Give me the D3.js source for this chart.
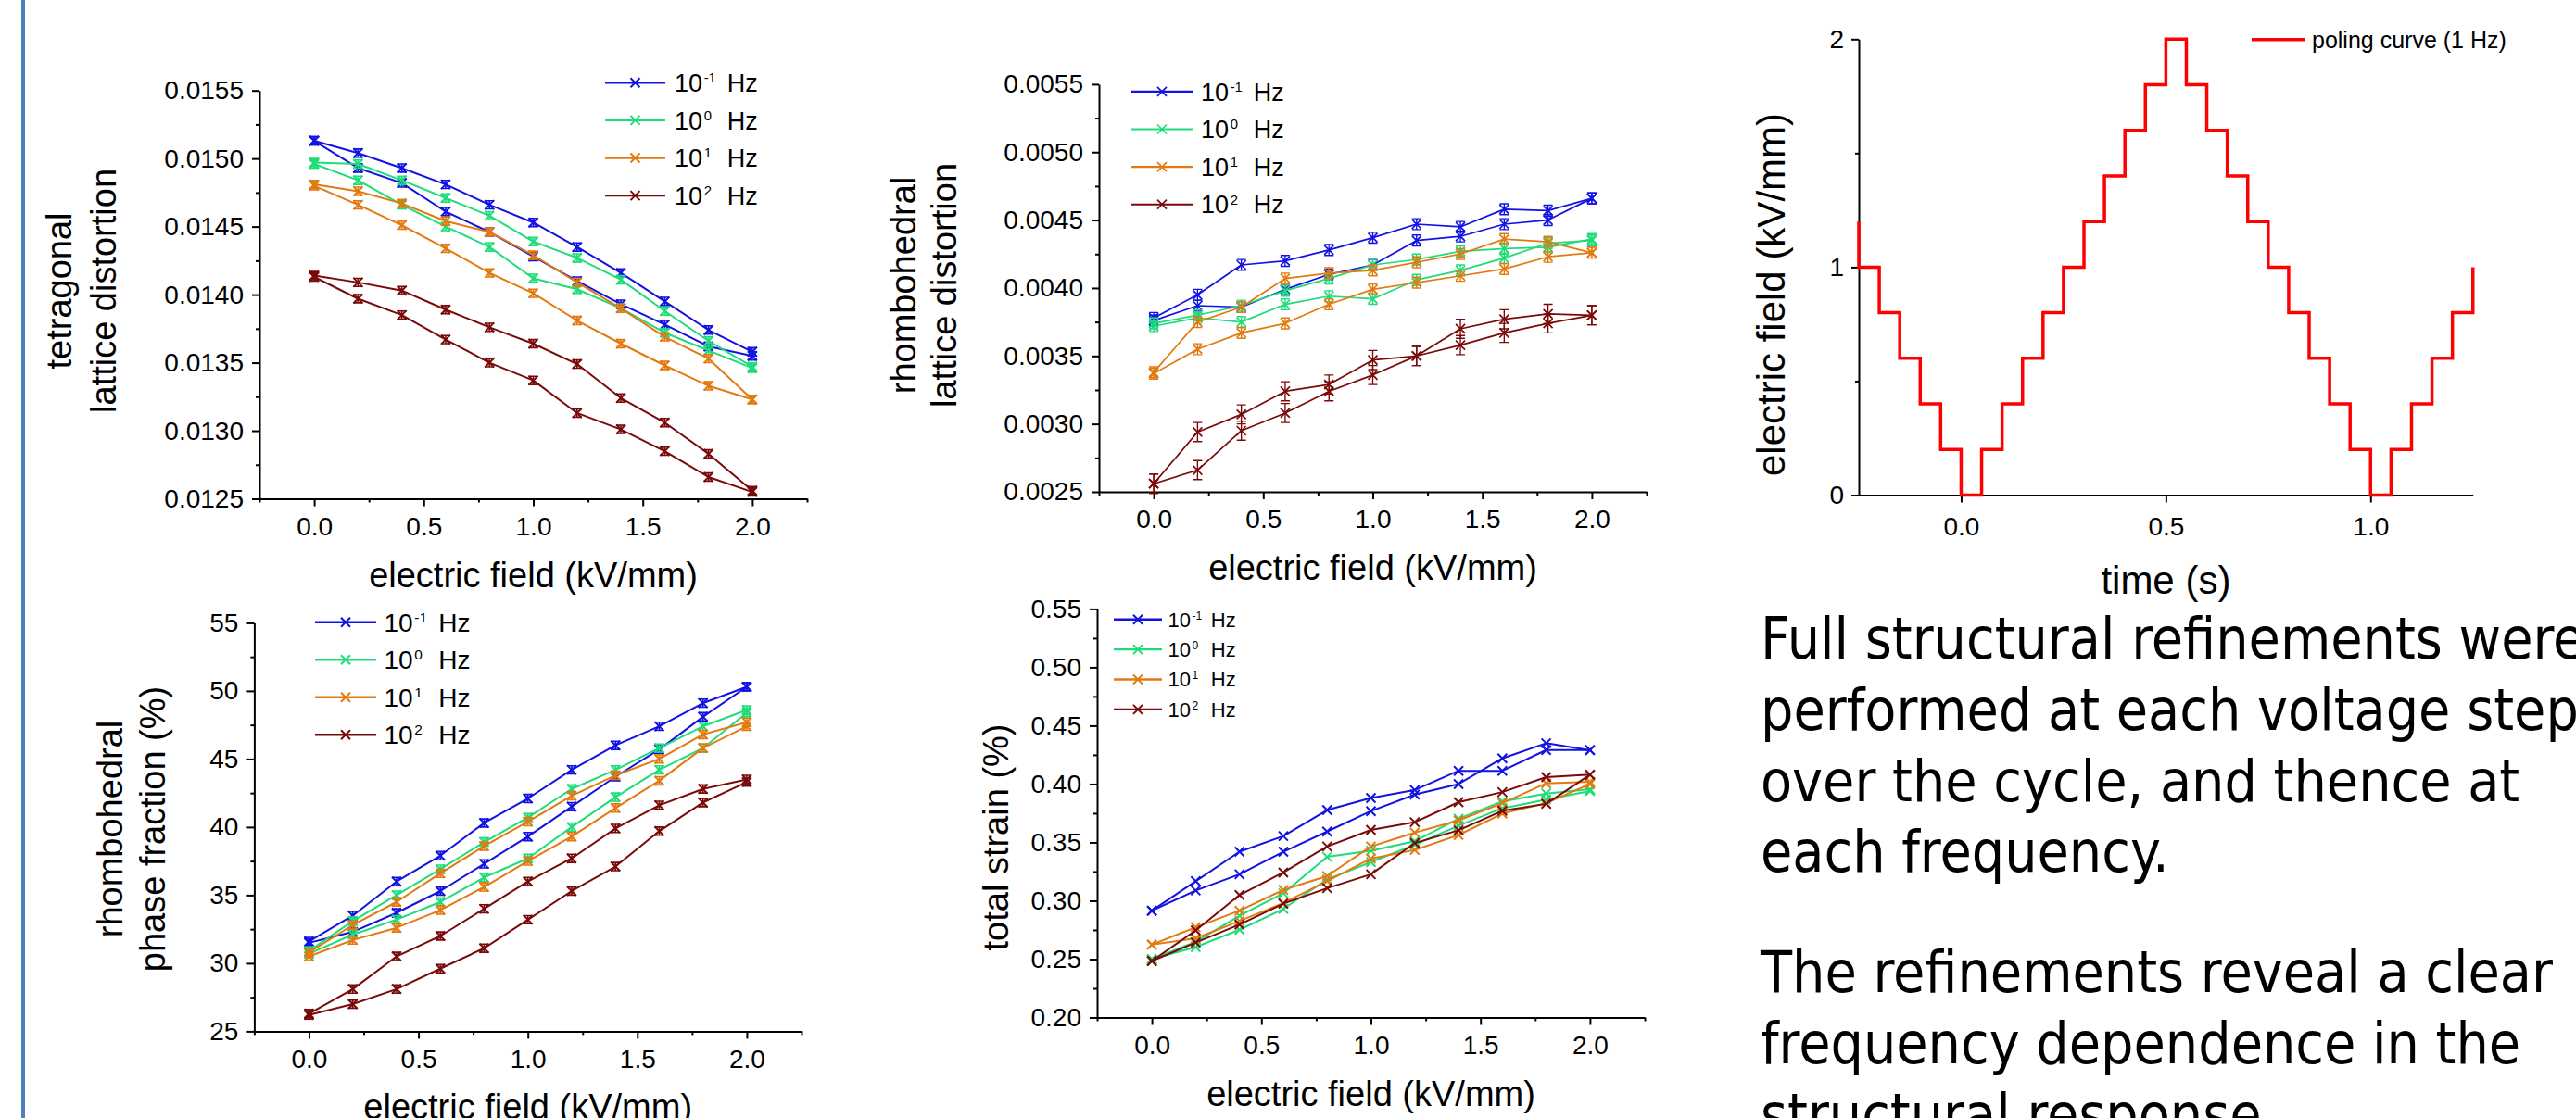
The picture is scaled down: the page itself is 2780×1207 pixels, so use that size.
<!DOCTYPE html>
<html>
<head>
<meta charset="utf-8">
<script src="https://cdn.jsdelivr.net/npm/d3@7"></script>
<style>
  html, body { margin: 0; padding: 0; background: #fff; overflow: hidden; }
  svg { display: block; }
</style>
</head>
<body>
<svg id="slide" width="2780" height="1207"></svg>
<script>
// ---------- data ----------
const fieldSteps = [0, 0.2, 0.4, 0.6, 0.8, 1.0, 1.2, 1.4, 1.6, 1.8, 2.0];   // kV/mm
const freqExponents = ["-1", "0", "1", "2"];                                // 10^n Hz

// Each loop has two branches over the field cycle; rows = 0.1, 1, 10, 100 Hz
const tetragonalA = [
  [0.01513, 0.01504, 0.01493, 0.01481, 0.01466, 0.01453, 0.01435, 0.01416, 0.01395, 0.01374, 0.01358],
  [0.01497, 0.01496, 0.01484, 0.01471, 0.01458, 0.01439, 0.01427, 0.01411, 0.01388, 0.01366, 0.01347],
  [0.01481, 0.01476, 0.01467, 0.01454, 0.01446, 0.01429, 0.01409, 0.01390, 0.01369, 0.01353, 0.01323],
  [0.01414, 0.01409, 0.01403, 0.01389, 0.01376, 0.01364, 0.01349, 0.01324, 0.01306, 0.01283, 0.01256]
];
const tetragonalB = [
  [0.01513, 0.01493, 0.01482, 0.01461, 0.01446, 0.01428, 0.01410, 0.01393, 0.01378, 0.01362, 0.01355],
  [0.01496, 0.01484, 0.01466, 0.01450, 0.01435, 0.01412, 0.01404, 0.01390, 0.01372, 0.01359, 0.01346],
  [0.01480, 0.01466, 0.01451, 0.01434, 0.01416, 0.01401, 0.01381, 0.01364, 0.01348, 0.01333, 0.01323],
  [0.01413, 0.01397, 0.01385, 0.01367, 0.01350, 0.01337, 0.01313, 0.01301, 0.01285, 0.01266, 0.01255]
];
const tetragonalErr = [0.00003, 0.00003, 0.00003, 0.00003];

const rhombDistA = [
  [0.00378, 0.00395, 0.00417, 0.00420, 0.00428, 0.00437, 0.00447, 0.00445, 0.00458, 0.00457, 0.00466],
  [0.00374, 0.00380, 0.00387, 0.00398, 0.00407, 0.00417, 0.00421, 0.00427, 0.00429, 0.00430, 0.00436],
  [0.00338, 0.00375, 0.00386, 0.00407, 0.00411, 0.00413, 0.00419, 0.00425, 0.00436, 0.00434, 0.00426],
  [0.00256, 0.00294, 0.00307, 0.00324, 0.00329, 0.00347, 0.00350, 0.00370, 0.00377, 0.00381, 0.00380]
];
const rhombDistB = [
  [0.00376, 0.00387, 0.00386, 0.00399, 0.00410, 0.00417, 0.00435, 0.00438, 0.00447, 0.00450, 0.00466],
  [0.00372, 0.00378, 0.00375, 0.00388, 0.00394, 0.00392, 0.00406, 0.00413, 0.00422, 0.00433, 0.00435],
  [0.00337, 0.00355, 0.00367, 0.00374, 0.00388, 0.00399, 0.00404, 0.00409, 0.00414, 0.00423, 0.00426],
  [0.00256, 0.00266, 0.00295, 0.00308, 0.00324, 0.00336, 0.00350, 0.00358, 0.00367, 0.00374, 0.00380]
];
const rhombDistErr = [0.00004, 0.00004, 0.00004, 0.00007];

const phaseFractionA = [
  [31.6, 33.5, 36.0, 37.9, 40.3, 42.1, 44.2, 46.0, 47.4, 49.1, 50.3],
  [30.9, 33.1, 35.0, 36.9, 38.9, 40.7, 42.8, 44.2, 45.8, 47.4, 48.6],
  [30.8, 32.8, 34.5, 36.6, 38.6, 40.4, 42.3, 43.8, 45.0, 46.8, 47.7],
  [26.3, 28.1, 30.5, 32.0, 34.0, 36.0, 37.7, 39.9, 41.6, 42.8, 43.5]
];
const phaseFractionB = [
  [31.5, 32.3, 33.7, 35.3, 37.3, 39.3, 41.5, 43.7, 45.7, 48.1, 50.3],
  [30.7, 32.1, 33.2, 34.5, 36.3, 37.7, 40.0, 42.2, 44.2, 45.8, 48.4],
  [30.5, 31.7, 32.6, 33.9, 35.6, 37.5, 39.3, 41.4, 43.4, 45.8, 47.4],
  [26.2, 27.0, 28.1, 29.6, 31.1, 33.2, 35.3, 37.1, 39.7, 41.8, 43.3]
];
const phaseFractionErr = [0.3, 0.3, 0.3, 0.3];

const strainA = [
  [0.2915, 0.3088, 0.3227, 0.3420, 0.3593, 0.3768, 0.3910, 0.4000, 0.4220, 0.4350, 0.4290],
  [0.2500, 0.2648, 0.2871, 0.3064, 0.3376, 0.3429, 0.3510, 0.3703, 0.3851, 0.3919, 0.3955],
  [0.2624, 0.2773, 0.2915, 0.3093, 0.3212, 0.3465, 0.3584, 0.3688, 0.3836, 0.4006, 0.4020],
  [0.2484, 0.2746, 0.3049, 0.3242, 0.3465, 0.3607, 0.3673, 0.3845, 0.3931, 0.4059, 0.4080]
];
const strainB = [
  [0.2915, 0.3168, 0.3420, 0.3554, 0.3777, 0.3881, 0.3949, 0.4113, 0.4113, 0.4291, 0.4291],
  [0.2500, 0.2603, 0.2752, 0.2930, 0.3183, 0.3331, 0.3480, 0.3643, 0.3792, 0.3866, 0.3940],
  [0.2624, 0.2678, 0.2826, 0.2981, 0.3168, 0.3361, 0.3435, 0.3563, 0.3747, 0.3836, 0.4000],
  [0.2484, 0.2642, 0.2796, 0.2975, 0.3108, 0.3227, 0.3495, 0.3604, 0.3771, 0.3830, 0.4080]
];
const strainErr = [0, 0, 0, 0];

// stepped poling waveform (1 Hz): time (s) and field (kV/mm)
const polingTime  = [-0.25, -0.25, -0.20, -0.15, -0.10, -0.05, 0.00, 0.05, 0.10, 0.15, 0.20, 0.25, 0.30, 0.35, 0.40, 0.45,
                      0.50, 0.55, 0.60, 0.65, 0.70, 0.75, 0.80, 0.85, 0.90, 0.95, 1.00, 1.05, 1.10, 1.15, 1.20, 1.25];
const polingField = [1.2, 1.0, 0.8, 0.6, 0.4, 0.2, 0.0, 0.2, 0.4, 0.6, 0.8, 1.0, 1.2, 1.4, 1.6, 1.8,
                     2.0, 1.8, 1.6, 1.4, 1.2, 1.0, 0.8, 0.6, 0.4, 0.2, 0.0, 0.2, 0.4, 0.6, 0.8, 1.0];

// axis ticks
const fieldTicks = [0, 0.5, 1.0, 1.5, 2.0];
const fieldMinorTicks = [-0.25, 0.25, 0.75, 1.25, 1.75, 2.25];
const tetragonalTicks = [0.0125, 0.0130, 0.0135, 0.0140, 0.0145, 0.0150, 0.0155];
const rhombDistTicks = [0.0025, 0.0030, 0.0035, 0.0040, 0.0045, 0.0050, 0.0055];
const phaseFractionTicks = [25, 30, 35, 40, 45, 50, 55];
const strainTicks = [0.20, 0.25, 0.30, 0.35, 0.40, 0.45, 0.50, 0.55];
const timeTicks = [0.0, 0.5, 1.0];
const polingFieldTicks = [0, 1, 2];

const bodyText = [
  "Full structural refinements were",
  "performed at each voltage step",
  "over the cycle, and thence at",
  "each frequency.",
  "",
  "The refinements reveal a clear",
  "frequency dependence in the",
  "structural response."
];

// ---------- drawing ----------
const svg = d3.select("#slide");
const seriesColors = ["#1212e2", "#1fdc7a", "#e27a10", "#7a0a0a"];
const chartFont = "'Liberation Sans', Arial, Helvetica, sans-serif";

svg.append("rect").attr("width", 2780).attr("height", 1207).attr("fill", "#fff");
svg.append("rect").attr("x", 23).attr("y", 0).attr("width", 4).attr("height", 1207).attr("fill", "#4f81bd");

function midpoints(ticks) {
  const out = [];
  for (let i = 0; i < ticks.length - 1; i++) out.push((ticks[i] + ticks[i + 1]) / 2);
  return out;
}

function styleAxis(sel, fontSize) {
  sel.selectAll(".domain, .tick line").attr("stroke", "#000").attr("stroke-width", 2);
  sel.selectAll(".tick text")
    .attr("font-family", chartFont).attr("font-size", fontSize).attr("fill", "#000");
}

function drawLegend(g, lg, lineWidth) {
  freqExponents.forEach((ex, i) => {
    const cy = lg.y0 + i * lg.dy;
    g.append("line")
      .attr("x1", lg.x).attr("x2", lg.x + lg.len).attr("y1", cy).attr("y2", cy)
      .attr("stroke", seriesColors[i]).attr("stroke-width", lineWidth + 0.4);
    g.append("path")
      .attr("transform", `translate(${lg.x + lg.len / 2},${cy})`)
      .attr("d", "M-5,-5L5,5M-5,5L5,-5")
      .attr("stroke", seriesColors[i]).attr("stroke-width", lineWidth).attr("fill", "none");
    const base = cy + 0.358 * lg.fs;
    const t = g.append("text")
      .attr("x", lg.tx).attr("y", base)
      .attr("font-family", chartFont).attr("font-size", lg.fs).attr("fill", "#000");
    t.append("tspan").text("10");
    t.append("tspan").attr("font-size", lg.fs * 0.55).attr("dx", lg.fs * 0.06)
      .attr("dy", -0.36 * lg.fs).text(ex);
    g.append("text")
      .attr("x", lg.tx + 2.1 * lg.fs).attr("y", base)
      .attr("font-family", chartFont).attr("font-size", lg.fs).attr("fill", "#000")
      .text("Hz");
  });
}

function drawPanel(p) {
  const g = svg.append("g");
  const x = d3.scaleLinear().domain([-0.25, 2.25]).range([p.left, p.right]);
  const y = d3.scaleLinear().domain(p.yDomain).range([p.bottom, p.top]);

  // minor ticks
  g.append("g").attr("transform", `translate(0,${p.bottom})`)
    .call(d3.axisBottom(x).tickValues(fieldMinorTicks).tickSize(4).tickFormat(""))
    .call(s => { s.select(".domain").remove(); styleAxis(s, 28); });
  g.append("g").attr("transform", `translate(${p.left},0)`)
    .call(d3.axisLeft(y).tickValues(midpoints(p.yTicks)).tickSize(4).tickFormat(""))
    .call(s => { s.select(".domain").remove(); styleAxis(s, 28); });

  // major axes
  g.append("g").attr("transform", `translate(0,${p.bottom})`)
    .call(d3.axisBottom(x).tickValues(fieldTicks).tickSize(8).tickSizeOuter(0)
      .tickPadding(11.6).tickFormat(d3.format(".1f")))
    .call(s => styleAxis(s, 28));
  g.append("g").attr("transform", `translate(${p.left},0)`)
    .call(d3.axisLeft(y).tickValues(p.yTicks).tickSize(8).tickSizeOuter(0)
      .tickPadding(9).tickFormat(d3.format(p.yFormat)))
    .call(s => styleAxis(s, 28));

  // data loops
  const line = d3.line().x(d => x(d[0])).y(d => y(d[1]));
  p.loopA.forEach((rowA, i) => {
    const color = seriesColors[i];
    [rowA, p.loopB[i]].forEach(branch => {
      const pts = fieldSteps.map((f, k) => [f, branch[k]]);
      g.append("path").attr("d", line(pts))
        .attr("fill", "none").attr("stroke", color).attr("stroke-width", p.lw)
        .attr("stroke-linejoin", "round");
      const err = p.err[i];
      pts.forEach(d => {
        const px = x(d[0]), py = y(d[1]);
        if (err > 0) {
          const y1 = y(d[1] + err), y2 = y(d[1] - err);
          g.append("path")
            .attr("d", `M${px},${y1}V${y2}M${px - 5},${y1}H${px + 5}M${px - 5},${y2}H${px + 5}`)
            .attr("stroke", color).attr("stroke-width", p.lw * 0.8).attr("fill", "none");
        }
        g.append("path")
          .attr("transform", `translate(${px},${py})`)
          .attr("d", "M-5,-5L5,5M-5,5L5,-5")
          .attr("stroke", color).attr("stroke-width", p.lw).attr("fill", "none");
      });
    });
  });

  drawLegend(g, p.legend, p.lw);

  // titles
  g.append("text")
    .attr("x", (p.left + p.right) / 2).attr("y", p.bottom + 95)
    .attr("text-anchor", "middle")
    .attr("font-family", chartFont).attr("font-size", 38).attr("fill", "#000")
    .text("electric field (kV/mm)");
  p.yTitle.forEach((txt, k) => {
    g.append("text")
      .attr("transform", `translate(${p.yTitleX[k]},${p.yTitleY}) rotate(-90)`)
      .attr("text-anchor", "middle")
      .attr("font-family", chartFont).attr("font-size", 38).attr("fill", "#000")
      .text(txt);
  });
}

drawPanel({
  left: 280, right: 871, top: 97.7, bottom: 538.5,
  yDomain: [0.0125, 0.0155], yTicks: tetragonalTicks, yFormat: ".4f",
  loopA: tetragonalA, loopB: tetragonalB, err: tetragonalErr, lw: 2,
  legend: { x: 653, len: 65, tx: 728, y0: 89.3, dy: 40.6, fs: 27 },
  yTitle: ["tetragonal", "lattice distortion"], yTitleX: [77, 125], yTitleY: 314
});

drawPanel({
  left: 1186, right: 1777, top: 90.9, bottom: 531,
  yDomain: [0.0025, 0.0055], yTicks: rhombDistTicks, yFormat: ".4f",
  loopA: rhombDistA, loopB: rhombDistB, err: rhombDistErr, lw: 1.7,
  legend: { x: 1221, len: 66, tx: 1296, y0: 98.9, dy: 40.6, fs: 27 },
  yTitle: ["rhombohedral", "lattice distortion"], yTitleX: [988, 1032], yTitleY: 308
});

drawPanel({
  left: 274.4, right: 865, top: 672.4, bottom: 1113.4,
  yDomain: [25, 55], yTicks: phaseFractionTicks, yFormat: "d",
  loopA: phaseFractionA, loopB: phaseFractionB, err: phaseFractionErr, lw: 2,
  legend: { x: 340, len: 66, tx: 414.5, y0: 671.7, dy: 40.5, fs: 28 },
  yTitle: ["rhombohedral", "phase fraction (%)"], yTitleX: [132, 178], yTitleY: 895
});

drawPanel({
  left: 1184, right: 1775, top: 657.4, bottom: 1098.5,
  yDomain: [0.20, 0.55], yTicks: strainTicks, yFormat: ".2f",
  loopA: strainA, loopB: strainB, err: strainErr, lw: 2,
  legend: { x: 1202, len: 52, tx: 1260.6, y0: 668.7, dy: 32.4, fs: 22 },
  yTitle: ["total strain (%)"], yTitleX: [1088], yTitleY: 904
});

// poling waveform panel
(function () {
  const g = svg.append("g");
  const left = 2006, right = 2668.75, top = 42.3, bottom = 534.5;
  const x = d3.scaleLinear().domain([-0.25, 1.25]).range([left, right]);
  const y = d3.scaleLinear().domain([0, 2]).range([bottom, top]);

  g.append("g").attr("transform", `translate(${left},0)`)
    .call(d3.axisLeft(y).tickValues(midpoints(polingFieldTicks)).tickSize(4).tickFormat(""))
    .call(s => { s.select(".domain").remove(); styleAxis(s, 28); });
  g.append("g").attr("transform", `translate(0,${bottom})`)
    .call(d3.axisBottom(x).tickValues(timeTicks).tickSize(8).tickSizeOuter(0)
      .tickPadding(15.6).tickFormat(d3.format(".1f")))
    .call(s => styleAxis(s, 28));
  g.append("g").attr("transform", `translate(${left},0)`)
    .call(d3.axisLeft(y).tickValues(polingFieldTicks).tickSize(8).tickSizeOuter(0)
      .tickPadding(8).tickFormat(d3.format("d")))
    .call(s => styleAxis(s, 28));

  const pts = polingTime.map((t, i) => [t, polingField[i]]);
  g.append("path")
    .attr("d", d3.line().x(d => x(d[0])).y(d => y(d[1])).curve(d3.curveStepAfter)(pts))
    .attr("fill", "none").attr("stroke", "#ff0000").attr("stroke-width", 3.5)
    .attr("stroke-linejoin", "miter");

  g.append("line").attr("x1", 2430).attr("x2", 2487.5).attr("y1", 42.7).attr("y2", 42.7)
    .attr("stroke", "#ff0000").attr("stroke-width", 3.5);
  g.append("text").attr("x", 2495).attr("y", 42.7 + 0.358 * 25)
    .attr("font-family", chartFont).attr("font-size", 25).attr("fill", "#000")
    .text("poling curve (1 Hz)");

  g.append("text")
    .attr("x", (left + right) / 2).attr("y", 641)
    .attr("text-anchor", "middle")
    .attr("font-family", chartFont).attr("font-size", 42).attr("fill", "#000")
    .text("time (s)");
  g.append("text")
    .attr("transform", `translate(1926,318) rotate(-90)`)
    .attr("text-anchor", "middle")
    .attr("font-family", chartFont).attr("font-size", 42).attr("fill", "#000")
    .text("electric field (kV/mm)");
})();

// explanatory text
const para = svg.append("text")
  .attr("font-family", "'DejaVu Sans Condensed', 'DejaVu Sans', sans-serif")
  .attr("font-stretch", "condensed")
  .attr("font-size", 62).attr("fill", "#000");
const baselines = [711, 788, 865, 941, 1006, 1071, 1148, 1225];
bodyText.forEach((ln, i) => {
  if (ln) para.append("tspan").attr("x", 1900).attr("y", baselines[i]).text(ln);
});
</script>
</body>
</html>
